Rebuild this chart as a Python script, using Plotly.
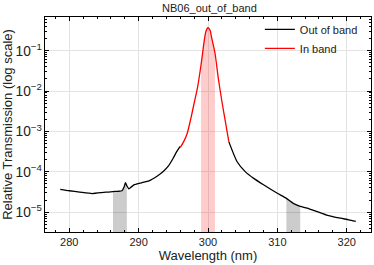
import plotly.graph_objects as go

# Out-of-band, blue side (wavelength nm, transmission)
left_wl = [278.7, 280.0, 281.5, 283.3, 285.0, 286.3, 287.0, 287.6, 287.9, 288.1, 288.3,
           288.6, 289.0, 289.4, 290.5, 291.5, 292.7, 293.5, 294.3, 295.0, 295.5, 296.0]
left_T = [3.7e-5, 3.4e-5, 3.15e-5, 2.9e-5, 3.1e-5, 3.25e-5, 3.3e-5, 3.4e-5, 4.2e-5, 5.4e-5, 4.5e-5,
          3.8e-5, 4.3e-5, 4.8e-5, 5.4e-5, 6.0e-5, 7.9e-5, 1.0e-4, 1.4e-4, 2.2e-4, 3.2e-4, 4.3e-4]

# In-band
band_wl = [296.0, 296.5, 297.0, 297.5, 298.0, 298.5, 299.0, 299.5, 299.7, 300.0, 300.3,
           300.5, 301.0, 301.5, 302.0, 302.5, 303.0]
band_T = [4.0e-4, 5.6e-4, 8.9e-4, 2.0e-3, 5.0e-3, 1.26e-2, 4.5e-2, 0.20, 0.30, 0.37, 0.32,
          0.22, 8.9e-2, 2.0e-2, 5.6e-3, 1.78e-3, 5.6e-4]

# Out-of-band, red side
right_wl = [303.0, 304.2, 305.4, 306.6, 308.0, 310.0, 311.3, 312.3, 313.3, 314.3,
            317.1, 319.1, 320.3, 321.3]
right_T = [5.6e-4, 1.78e-4, 1.0e-4, 6.9e-5, 4.8e-5, 2.95e-5, 2.2e-5, 1.66e-5, 1.4e-5, 1.26e-5,
           8.5e-6, 7.1e-6, 6.5e-6, 5.9e-6]

# shaded regions (nm)
gray_bands = [(286.3, 288.3), (311.3, 313.3)]
red_band = (299.0, 301.0)

wl_all = left_wl + band_wl + right_wl
T_all = left_T + band_T + right_T
BASE = 1e-8
SMOOTH = 0.6

fig = go.Figure()

def add_band(lo, hi, color):
    pairs = sorted(set((w, t) for w, t in zip(wl_all, T_all) if lo <= w <= hi))
    xs = [p[0] for p in pairs]
    ys = [p[1] for p in pairs]
    fig.add_trace(go.Scatter(x=[lo, hi], y=[BASE, BASE], mode="lines",
                             line=dict(width=0), showlegend=False, hoverinfo="skip"))
    fig.add_trace(go.Scatter(x=xs, y=ys, mode="lines",
                             line=dict(width=0, shape="spline", smoothing=SMOOTH),
                             fill="tonexty", fillcolor=color, showlegend=False, hoverinfo="skip"))

for lo, hi in gray_bands:
    add_band(lo, hi, "rgba(0,0,0,0.2)")
add_band(red_band[0], red_band[1], "rgba(255,0,0,0.2)")

fig.add_trace(go.Scatter(x=left_wl + [None] + right_wl, y=left_T + [None] + right_T,
                         mode="lines",
                         line=dict(color="black", width=1.3, shape="spline", smoothing=SMOOTH),
                         name="Out of band"))
fig.add_trace(go.Scatter(x=band_wl, y=band_T, mode="lines",
                         line=dict(color="red", width=1.3, shape="spline", smoothing=SMOOTH),
                         name="In band"))

font = "Liberation Sans, Arial, sans-serif"
fig.update_layout(
    width=374, height=265,
    margin=dict(l=45, r=3, t=17, b=33),
    paper_bgcolor="white", plot_bgcolor="white",
    font=dict(family=font, size=11, color="#222"),
    title=dict(text="NB06_out_of_band", x=0.56, xanchor="center", y=0.985, yanchor="top",
               font=dict(size=11, color="#222")),
    legend=dict(x=0.975, y=1.01, xanchor="right", yanchor="top", bgcolor="rgba(0,0,0,0)",
                font=dict(size=11), itemwidth=30, tracegroupgap=0, traceorder="normal"),
    showlegend=True,
)
fig.update_xaxes(
    range=[276.5, 323.5], tickvals=[280, 290, 300, 310, 320],
    title=dict(text="Wavelength (nm)", standoff=2),
    showline=True, linecolor="black", linewidth=1, mirror="allticks",
    ticks="inside", ticklen=4, tickcolor="black",
    showgrid=True, gridcolor="#e3e3e3", gridwidth=1, zeroline=False,
    minor=dict(ticks="inside", ticklen=2, dtick=2, tick0=0, tickcolor="black", showgrid=False),
)
fig.update_yaxes(
    type="log", range=[-5.49, -0.165], dtick=1, exponentformat="power",
    title=dict(text="Relative Transmission (log scale)", standoff=2),
    showline=True, linecolor="black", linewidth=1, mirror="allticks",
    ticks="inside", ticklen=4, tickcolor="black",
    showgrid=True, gridcolor="#e3e3e3", gridwidth=1, zeroline=False,
    minor=dict(ticks="inside", ticklen=2, dtick="D1", tickcolor="black", showgrid=False),
)

fig.write_html("out.html", config={"displayModeBar": False},
               post_script="document.body.style.margin='0';")
